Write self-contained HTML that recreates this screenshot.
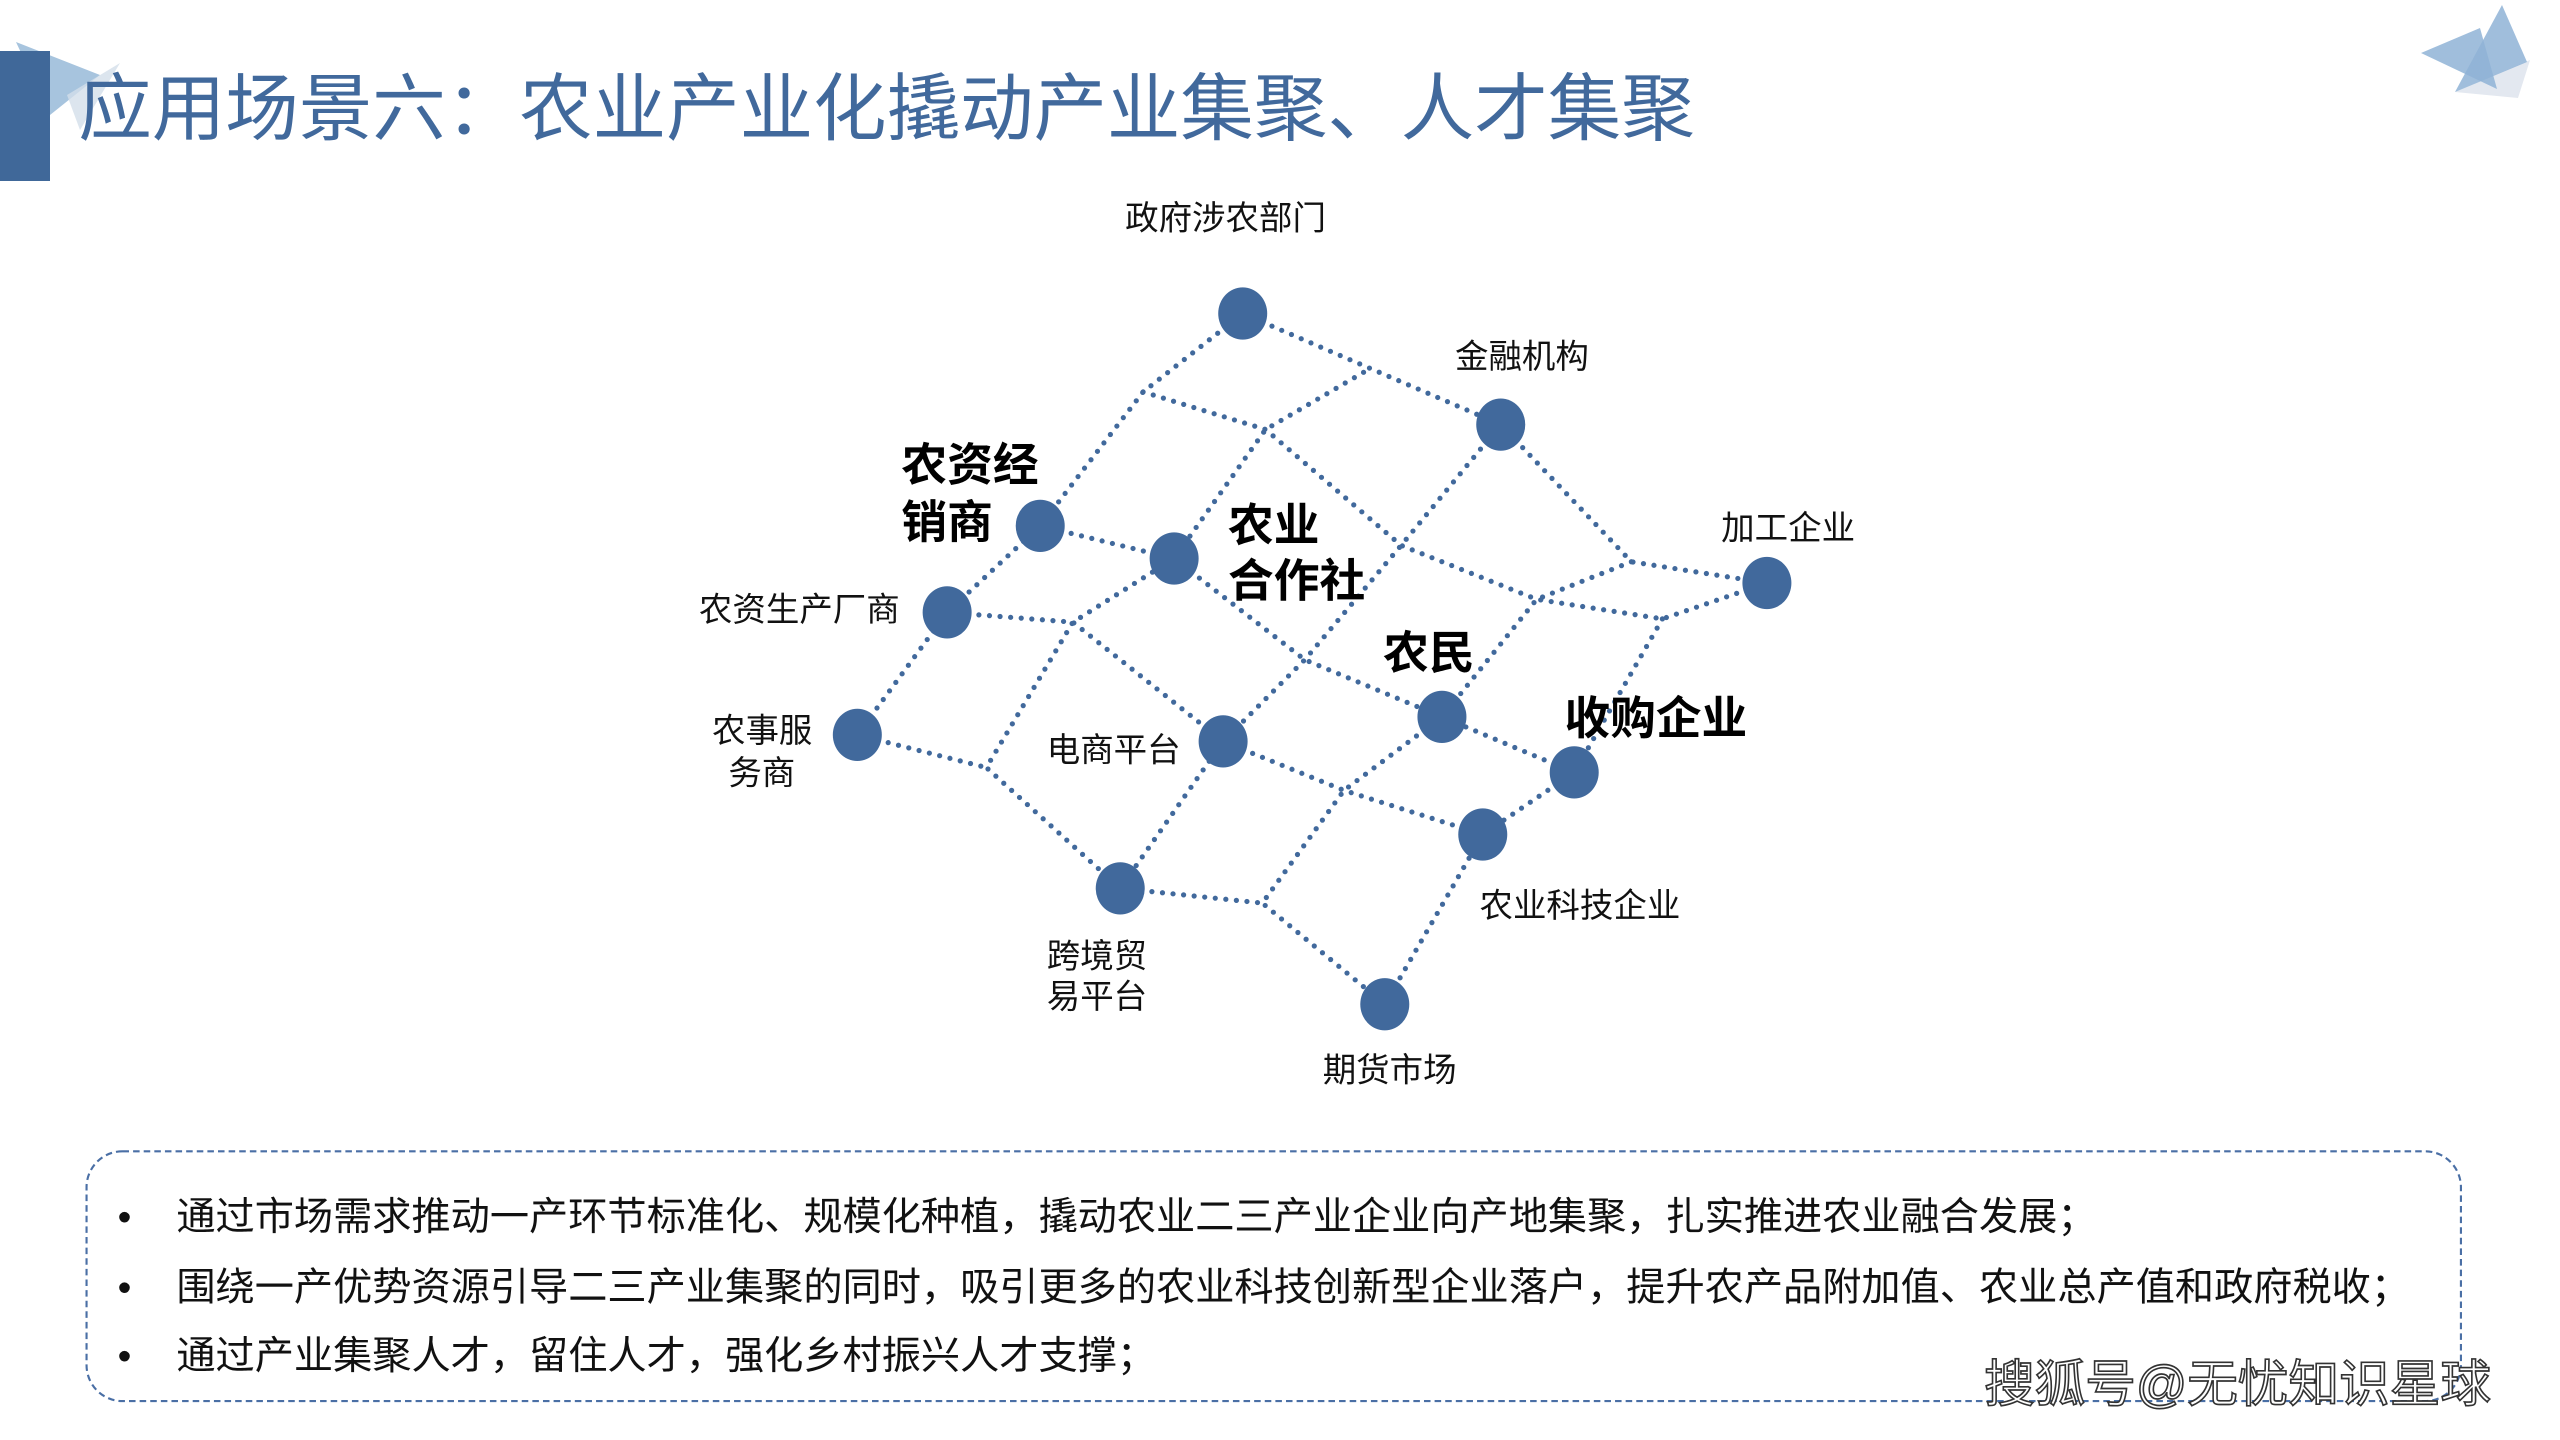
<!DOCTYPE html>
<html><head><meta charset="utf-8"><style>
html,body{margin:0;padding:0;background:#fff;}
svg{display:block;}
text{font-family:"Liberation Sans","Noto Sans CJK SC",sans-serif;}
</style></head><body>
<svg width="2560" height="1440" viewBox="0 0 2560 1440" xmlns="http://www.w3.org/2000/svg">
<rect width="2560" height="1440" fill="#fff"/>
<polygon points="16,42 100,75 50,115" fill="#a7c4de"/>
<polygon points="67,95 120,63 80,130" fill="#d3dfea" opacity="0.8"/>
<rect x="0" y="51" width="50" height="130" fill="#406899"/>
<polygon points="2455,92 2530,60 2518,98" fill="#e3e8f0"/>
<polygon points="2421,53 2480,28 2497,89" fill="#8fb3d6" opacity="0.85"/>
<polygon points="2502,5 2527,62 2455,92" fill="#8fb3d6" opacity="0.85"/>
<g transform="scale(1.633)">
<text x="48" y="82" font-size="45" fill="#41699c">应用场景六：农业产业化撬动产业集聚、人才集聚</text>
<g stroke="#41699c" stroke-width="3.2" stroke-linecap="round" stroke-dasharray="0 6.5" fill="none">
<polyline points="761,192 700,240 637,322 580,375 525,450"/>
<polyline points="761,192 919,260"/>
<polyline points="700,240 775,263 858,334 941,367 1018,379 1082,357"/>
<polyline points="919,260 999,344 1082,357"/>
<polyline points="999,344 941,367 883,439"/>
<polyline points="1018,379 964,473"/>
<polyline points="835,228 775,263 719,342 657,381 604,470 686,544"/>
<polyline points="580,375 657,381 749,454"/>
<polyline points="525,450 604,470"/>
<polyline points="919,260 858,334 799,404 749,454 686,544"/>
<polyline points="637,322 719,342 799,404 883,439 964,473"/>
<polyline points="749,454 823,484 908,511"/>
<polyline points="883,439 823,484 773,553 848,615"/>
<polyline points="686,544 773,553"/>
<polyline points="964,473 908,511 848,615"/>
</g>
<g fill="#41699c">
<ellipse cx="761" cy="192" rx="15" ry="16"/>
<ellipse cx="919" cy="260" rx="15" ry="16"/>
<ellipse cx="1082" cy="357" rx="15" ry="16"/>
<ellipse cx="964" cy="473" rx="15" ry="16"/>
<ellipse cx="908" cy="511" rx="15" ry="16"/>
<ellipse cx="848" cy="615" rx="15" ry="16"/>
<ellipse cx="686" cy="544" rx="15" ry="16"/>
<ellipse cx="525" cy="450" rx="15" ry="16"/>
<ellipse cx="580" cy="375" rx="15" ry="16"/>
<ellipse cx="637" cy="322" rx="15" ry="16"/>
<ellipse cx="719" cy="342" rx="15" ry="16"/>
<ellipse cx="749" cy="454" rx="15" ry="16"/>
<ellipse cx="883" cy="439" rx="15" ry="16"/>
</g>
<g font-size="20.5" fill="#111" dominant-baseline="middle">
<text x="689" y="135">政府涉农部门</text>
<text x="891" y="220">金融机构</text>
<text x="1054" y="325">加工企业</text>
<text x="906" y="556">农业科技企业</text>
<text x="810" y="657">期货市场</text>
<text x="641" y="587">跨境贸</text>
<text x="641" y="612">易平台</text>
<text x="436" y="449">农事服</text>
<text x="446" y="475">务商</text>
<text x="428" y="375">农资生产厂商</text>
<text x="641" y="461">电商平台</text>
</g>
<g font-size="28" font-weight="bold" fill="#000" dominant-baseline="middle">
<text x="552" y="287">农资经</text>
<text x="552" y="322">销商</text>
<text x="752" y="324">农业</text>
<text x="752" y="358">合作社</text>
<text x="847" y="402">农民</text>
<text x="958" y="442">收购企业</text>
</g>
<rect x="53" y="705" width="1454" height="153" rx="22" ry="22" fill="none" stroke="#4a6fa5" stroke-width="1.3" stroke-dasharray="4 2.5"/>
<g font-size="24" fill="#111" dominant-baseline="middle">
<text x="72" y="747">•</text>
<text x="108" y="747">通过市场需求推动一产环节标准化、规模化种植，撬动农业二三产业企业向产地集聚，扎实推进农业融合发展；</text>
<text x="72" y="790">•</text>
<text x="108" y="790">围绕一产优势资源引导二三产业集聚的同时，吸引更多的农业科技创新型企业落户，提升农产品附加值、农业总产值和政府税收；</text>
<text x="72" y="832">•</text>
<text x="108" y="832">通过产业集聚人才，留住人才，强化乡村振兴人才支撑；</text>
</g>
<text x="1215" y="850" font-size="31" fill="#fff" stroke="#333" stroke-width="1" dominant-baseline="middle">搜狐号@无忧知识星球</text>
</g>
</svg>
</body></html>
